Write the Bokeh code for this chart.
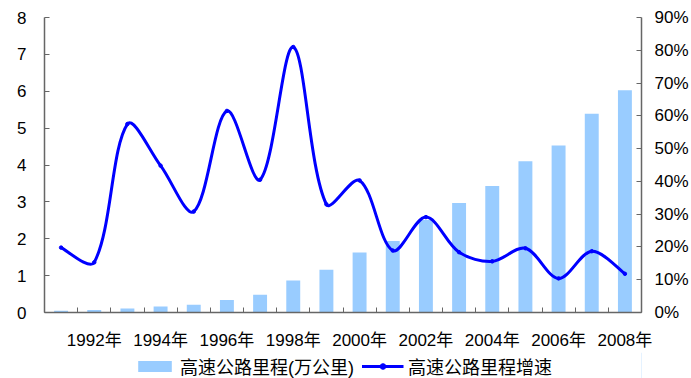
import math
from bokeh.plotting import figure
from bokeh.layouts import column
from bokeh.models import Range1d, LinearAxis, FixedTicker, PrintfTickFormatter, Legend, LegendItem
from bokeh.embed import file_html
from bokeh.resources import INLINE

# Expressway length (10k km) and its yearly growth rate (%), 1991-2008
years = list(range(1991, 2009))
mileage = [0.05, 0.07, 0.11, 0.16, 0.21, 0.34, 0.48, 0.87, 1.16,
           1.63, 1.94, 2.51, 2.97, 3.43, 4.10, 4.53, 5.39, 6.03]
growth = [19.8, 15.3, 57.5, 44.8, 30.8, 61.5, 40.5, 81.0, 33.0,
          40.3, 18.9, 29.1, 18.4, 15.6, 19.6, 10.4, 18.7, 11.8]
label_years = [1992, 1994, 1996, 1998, 2000, 2002, 2004, 2006, 2008]
left_ticks = [0, 1, 2, 3, 4, 5, 6, 7, 8]
right_ticks = [0, 10, 20, 30, 40, 50, 60, 70, 80, 90]

BAR = "#99CCFF"
LINE = "#0000FF"
AXIS = "#666666"
FONT = "Liberation Sans, Noto Sans CJK SC"

FRAME_W, FRAME_H = 597, 295
n = len(years)
xs = [i + 0.5 for i in range(n)]

p = figure(frame_width=FRAME_W, frame_height=FRAME_H, output_backend="svg", toolbar_location=None,
           x_range=Range1d(0, n), y_range=Range1d(0, 8),
           min_border_left=44, min_border_right=50, min_border_top=17, min_border_bottom=36)
p.outline_line_color = None
p.grid.visible = False
p.background_fill_color = "white"
p.border_fill_color = "white"

p.extra_y_ranges = {"pct": Range1d(0, 90)}

bars = p.vbar(x=xs, top=mileage, width=0.42, fill_color=BAR, line_color=None)

# smoothed growth curve: cubic Bezier segments, tangents weighted by
# the on-screen length of the neighbouring segments
kx = FRAME_W / n      # px per year
ky = FRAME_H / 90.0   # px per percent


def dist(a, b):
    return math.hypot((b[0] - a[0]) * kx, (b[1] - a[1]) * ky)


pts = list(zip(xs, growth))
x0, y0, x1, y1, cx0, cy0, cx1, cy1 = [], [], [], [], [], [], [], []
for i in range(n - 1):
    pa = pts[i - 1] if i > 0 else pts[i]
    pb = pts[i]
    pc = pts[i + 1]
    pd = pts[i + 2] if i + 2 < n else pc
    d_ab, d_bc, d_cd = dist(pa, pb), dist(pb, pc), dist(pc, pd)
    if i > 0:
        ta = (pc[0] - pa[0], pc[1] - pa[1])
        s1 = d_bc / (d_ab + d_bc) / 3
    else:
        ta = (pc[0] - pb[0], pc[1] - pb[1])
        s1 = 1 / 6
    if i + 2 < n:
        tb = (pd[0] - pb[0], pd[1] - pb[1])
        s2 = d_bc / (d_bc + d_cd) / 3
    else:
        tb = (pc[0] - pb[0], pc[1] - pb[1])
        s2 = 1 / 6
    x0.append(pb[0]); y0.append(pb[1])
    x1.append(pc[0]); y1.append(pc[1])
    cx0.append(pb[0] + ta[0] * s1); cy0.append(pb[1] + ta[1] * s1)
    cx1.append(pc[0] - tb[0] * s2); cy1.append(pc[1] - tb[1] * s2)

p.bezier(x0=x0, y0=y0, x1=x1, y1=y1, cx0=cx0, cy0=cy0, cx1=cx1, cy1=cy1,
         line_color=LINE, line_width=3, y_range_name="pct")
p.scatter(x=xs, y=growth, size=3.5, marker="circle", fill_color=LINE,
          line_color=LINE, y_range_name="pct")

# bottom axis: labels at every other year, small ticks between categories
xax = p.xaxis[0]
xax.ticker = FixedTicker(ticks=[y - 1991 + 0.5 for y in label_years],
                         minor_ticks=list(range(n + 1)))
xax.major_label_overrides = {y - 1991 + 0.5: f"{y}年" for y in label_years}
xax.major_tick_line_color = None
xax.minor_tick_in = 5
xax.minor_tick_out = 0
xax.minor_tick_line_color = AXIS
xax.axis_line_color = AXIS
xax.axis_line_width = 1.5
xax.major_label_standoff = 12
xax.major_label_text_font = FONT
xax.major_label_text_font_size = "17px"
xax.major_label_text_color = "black"

yax = p.yaxis[0]
yax.ticker = FixedTicker(ticks=left_ticks)
yax.major_tick_in = 5
yax.major_tick_out = 0
yax.minor_tick_line_color = None
yax.major_tick_line_color = AXIS
yax.axis_line_color = AXIS
yax.axis_line_width = 1.5
yax.major_label_standoff = 18
yax.major_label_text_font = FONT
yax.major_label_text_font_size = "17px"
yax.major_label_text_color = "black"

rax = LinearAxis(y_range_name="pct", ticker=FixedTicker(ticks=right_ticks),
                 formatter=PrintfTickFormatter(format="%d%%"))
rax.major_tick_in = 5
rax.major_tick_out = 0
rax.minor_tick_line_color = None
rax.major_tick_line_color = AXIS
rax.axis_line_color = AXIS
rax.axis_line_width = 1.5
rax.major_label_standoff = 13
rax.major_label_text_font = FONT
rax.major_label_text_font_size = "17px"
rax.major_label_text_color = "black"
p.add_layout(rax, "right")

# legend strip under the chart; its swatch renderers sit outside the visible range
lg = figure(width=691, height=27, output_backend="svg", toolbar_location=None,
            x_range=Range1d(0, 1), y_range=Range1d(0, 1),
            min_border=0, x_axis_type=None, y_axis_type=None)
lg.outline_line_color = None
lg.grid.visible = False
lg.background_fill_color = "white"
lg.border_fill_color = "white"
lg_bar = lg.vbar(x=[50], top=[1], width=0.1, fill_color=BAR, line_color=None)
lg_line = lg.line(x=[50, 51], y=[0.5, 0.5], line_color=LINE, line_width=3)
lg_dot = lg.scatter(x=[50], y=[0.5], size=4, marker="circle",
                    fill_color=LINE, line_color=LINE)

legend = Legend(items=[
    LegendItem(label="高速公路里程(万公里)", renderers=[lg_bar]),
    LegendItem(label="高速公路里程增速", renderers=[lg_line, lg_dot]),
], orientation="horizontal", location="bottom_center")
legend.glyph_width = 42
legend.glyph_height = 14
legend.label_standoff = 5
legend.spacing = 7
legend.padding = 0
legend.margin = 0
legend.border_line_color = None
legend.background_fill_alpha = 0
legend.label_text_font = FONT
legend.label_text_font_size = "18px"
legend.label_text_color = "black"
lg.add_layout(legend, "center")

layout = column(p, lg, spacing=0)
open("out.html", "w").write(file_html(layout, INLINE))
